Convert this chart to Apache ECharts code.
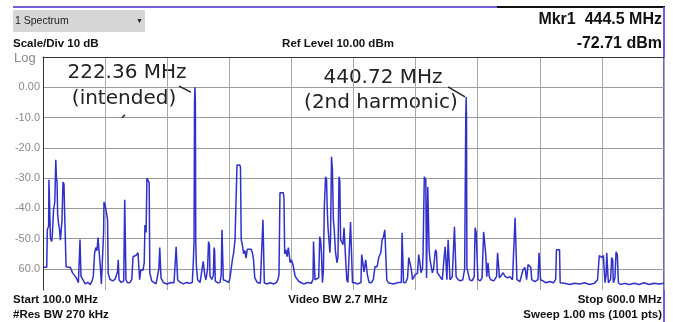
<!DOCTYPE html>
<html>
<head>
<meta charset="utf-8">
<script src="https://cdn.jsdelivr.net/npm/echarts@6/dist/echarts.min.js"></script>
<style>
  html, body { margin: 0; padding: 0; background: #fff; }
  #chart { width: 673px; height: 322px; }
</style>
</head>
<body>
<div id="chart"></div>
<script>
// Sweep frequencies (MHz) and levels (dBm) of the trace
const traceFreq = [
  100, 101.5, 103, 103.5, 104.5, 104.8, 105.6, 106, 107, 107.5, 108.5, 109.5, 110.3, 110.8, 111.3, 111.8,
  112.5, 113.3, 114, 114.8, 115.3, 116.1, 116.9, 117.5, 118.3, 118.6, 120, 122, 124, 126, 127.4, 128.5,
  129.5, 129.8, 130.3, 130.6, 132, 134, 136, 138, 139.5, 140.5, 141.5, 142.5, 143.5, 144.3, 145, 145.5,
  146.2, 147, 148, 148.8, 149.1, 150, 151.5, 152, 152.5, 154, 156, 158, 160, 160.6, 161.2, 163, 165,
  165.8, 166.4, 166.8, 168, 170, 171.5, 172.5, 175, 176.5, 177.3, 177.8, 178.8, 180.5, 181.5, 182.1, 183,
  183.7, 184.5, 185.5, 186, 187.5, 189, 191, 192.5, 193.3, 194, 194.5, 195, 197, 200, 203, 205.5, 206.5,
  207.2, 207.8, 208.4, 210.5, 213, 215.5, 218, 220.2, 221, 221.6, 222, 222.36, 222.7, 223, 223.5, 224.5,
  226.5, 228, 229, 229.6, 230.2, 231.2, 232.5, 233.3, 234, 234.5, 236, 237.2, 237.7, 238.2, 238.7, 240.5,
  242.5, 243.5, 244.1, 244.7, 245.2, 247.4, 249.5, 250.6, 251.5, 252.5, 253.5, 254.6, 255.2, 256.2, 258.5,
  259, 259.6, 260.5, 261.5, 262.6, 263.5, 264.5, 266, 267.5, 268.5, 269.5, 270.5, 272.5, 275, 276.5, 277.1,
  277.7, 278.2, 280, 283, 286, 288, 289.2, 290, 290.8, 293.5, 294, 294.6, 295.5, 296.5, 297.5, 298.3, 299,
  300, 301.5, 303, 304.5, 306, 308, 310, 313, 316, 317.4, 317.8, 318.4, 319, 320.5, 322, 322.8, 323.5,
  324.2, 325, 325.8, 326.5, 327.5, 328.3, 328.8, 329.5, 330.3, 331, 331.5, 332.3, 333, 333.8, 334.5, 335.5,
  336.7, 337.5, 338.3, 339, 339.6, 340.5, 341.5, 342.4, 343.2, 343.8, 344.6, 345.5, 346.8, 347.6, 348.6,
  349.2, 351, 353, 356, 356.6, 357.2, 358.5, 359.8, 360.6, 361.2, 362.5, 364.5, 366, 367.3, 369, 370.5,
  372, 373, 374, 375.2, 376.2, 376.8, 378, 382, 386, 388.5, 389.1, 389.7, 390.3, 392, 393.5, 394.5, 395.5,
  396.5, 397.5, 399.5, 401.5, 402.5, 403.5, 404.3, 405.5, 406, 407, 408.2, 408.8, 409.8, 410.4, 410.9,
  411.6, 412.5, 413.5, 414.5, 415.6, 416.1, 416.8, 417.5, 419.7, 421.5, 422.8, 423.8, 424.5, 425.2, 426.2,
  427, 427.7, 429.5, 430.3, 431.3, 432, 432.6, 434.2, 436, 438, 439.5, 440.2, 440.4, 440.72, 441, 441.3,
  442, 443.5, 445.5, 447.2, 447.9, 448.8, 449.5, 450.2, 452, 453.5, 454.8, 455.8, 456.5, 457.3, 458.3,
  459.3, 460.5, 463, 465.2, 466, 466.8, 467.5, 469, 470.5, 472, 474, 476, 478, 479.5, 480.1, 480.8, 481.6,
  484, 486.5, 488.1, 489.4, 490.5, 491.5, 492.8, 493.5, 496, 498.5, 499.4, 500, 500.6, 502.5, 505, 508,
  511, 512.8, 513.4, 514.7, 515.9, 516.4, 520, 524, 528, 532, 536, 540, 544, 546.5, 547.9, 549, 550.1,
  551.2, 552, 552.5, 553.4, 553.9, 554.6, 555.2, 557, 557.9, 558.7, 559.2, 560.5, 561.4, 562.4, 563.3,
  565, 568, 572, 576, 580, 584, 588, 592, 596, 600
];
const traceLevel = [
  -59.5, -59, -59.5, -47, -46, -30.6, -30.6, -50, -51, -49, -40.5, -38, -24, -30, -31, -42,
  -45, -47, -50.5, -51, -44, -31.3, -32, -42.8, -43, -59.3, -59.3, -59.6, -61.5, -62.5, -63.5, -64.6,
  -64, -50.3, -50.5, -62.5, -63.5, -65, -64.5, -65.2, -64, -62.5, -55, -53, -54, -49.7, -50, -56,
  -59.5, -65, -64.5, -48, -37.9, -38.8, -38.8, -43.8, -61.5, -63.5, -64, -63.5, -61, -57, -63.6, -64.5, -64,
  -37.2, -37.5, -63.6, -64.6, -64.5, -63.5, -56, -55.5, -54.7, -54.5, -63.6, -60.3, -60.5, -58, -45.5, -48,
  -30, -30.5, -31.6, -61.3, -64, -64.6, -65, -64.5, -60, -53, -53, -63, -64.6, -65, -64.5, -64.6, -64,
  -52.7, -53, -63.6, -64.5, -65, -64.5, -64.8, -64.5, -58, -51.4, -5, 0, -5, -51.4, -59, -63.6,
  -64.5, -64, -57.5, -57, -62, -63.6, -60, -51, -52, -62.5, -63.5, -62, -53, -54, -64, -64.6,
  -64.5, -62, -47.1, -47.5, -63.6, -64, -64.5, -63, -60, -57, -54.7, -50.4, -50.4, -25.7, -25.7,
  -26.5, -50.4, -52, -55, -54, -56.5, -53.5, -53, -53.5, -54.5, -57, -63, -64.5, -64.8, -64.5, -43.8,
  -44, -64.6, -65, -64.6, -65, -64.5, -63.5, -62, -34.9, -34.9, -36.5, -55, -53.7, -56, -53, -53, -58,
  -57, -59, -62.5, -63, -64.2, -64.6, -65, -64.5, -64.8, -63.5, -51, -51.5, -63.6, -64, -63, -49.4, -50.5,
  -54.7, -64.6, -60, -39.6, -29.6, -30.5, -39.6, -46.5, -47, -54.7, -50, -23, -27, -43.8, -47, -54.5,
  -58, -56, -29.6, -31, -50.4, -51, -52, -46.4, -47, -58, -63.6, -64.5, -64, -44.5, -44.5,
  -64.6, -64.6, -65, -64.5, -55.3, -55.5, -61, -57, -57.5, -62, -64.5, -64.6, -63.5, -59.3, -59.3, -56,
  -54.7, -50.4, -49.7, -47.1, -47.1, -63.6, -64.6, -65, -64.5, -64.5, -48.1, -48.5, -64.5, -64.6, -63, -56.3, -56.5,
  -60, -63.6, -62, -61.5, -55.3, -58, -61.3, -60, -55.3, -29.6, -30.5, -63, -33, -33.5, -53.7,
  -57, -59, -61.3, -60, -55, -53.7, -54.5, -61.3, -62.6, -63.6, -57, -52.7, -53, -63.6, -50.4,
  -51, -63.6, -62.6, -62, -46.1, -46.5, -62.6, -63.6, -64, -63.6, -60, -59.6, -10, -3.2, -10, -59.6,
  -60, -63.6, -64, -62.6, -46.4, -48, -56, -63.6, -64, -63, -47.8, -48, -55.3, -62.6, -58,
  -62.6, -63.6, -64, -62.5, -54.7, -55, -63, -63.6, -61.3, -62.5, -63, -62.6, -63.6, -63.6, -43.1, -43.5, -63.6,
  -64.2, -60.3, -59.6, -63.6, -58.6, -59, -59.6, -63.6, -64.2, -63.6, -54.7, -55.3, -63.6, -64, -64.6, -64.2,
  -64.6, -63.5, -53.7, -53.3, -53.7, -64.6, -64.8, -65.2, -64.8, -65, -64.6, -65.2, -64.8, -63.6, -55.6, -56, -56.3,
  -55.6, -56, -64.6, -62, -54.7, -55, -64.6, -63.5, -56.3, -57, -64.6, -63, -54.4, -55.3, -64.6,
  -65.2, -64.8, -65.2, -64.8, -65.2, -64.6, -65.2, -64.8, -65, -64.8
];
const yTickValues = [0, -10, -20, -30, -40, -50, -60];
const yTickLabels = ['0.00', '-10.0', '-20.0', '-30.0', '-40.0', '-50.0', '60.0'];

const boldFont = '"Liberation Sans", Arial, sans-serif';
const noteFont = '"DejaVu Sans", sans-serif';

const chart = echarts.init(document.getElementById('chart'), null, { renderer: 'canvas' });

const txt = (x, y, text, opts) => ({
  type: 'text', x: x, y: y, silent: true,
  style: Object.assign({ text: text, fill: '#111', font: 'bold 11.5px ' + boldFont, textVerticalAlign: 'middle' }, opts || {})
});

const option = {
  animation: false,
  backgroundColor: '#fff',
  grid: { left: 43, right: 9, top: 57, bottom: 32 },
  xAxis: {
    type: 'value', min: 100, max: 600, interval: 50, position: 'top',
    axisLine: { show: true, onZero: false, lineStyle: { color: '#333', width: 1 } },
    axisTick: { show: false },
    axisLabel: { show: false },
    splitLine: { show: true, lineStyle: { color: '#a8a8a8', width: 1 } }
  },
  yAxis: {
    type: 'value', min: -67, max: 10,
    axisLine: { show: true, lineStyle: { color: '#333', width: 1 } },
    axisTick: { show: false, customValues: yTickValues },
    axisLabel: {
      customValues: yTickValues,
      color: '#8a8a8a', fontSize: 11, fontFamily: boldFont, margin: 3,
      formatter: (v) => yTickLabels[yTickValues.indexOf(v)]
    },
    splitLine: { show: true, lineStyle: { color: '#9a9a9a', width: 1 } }
  },
  series: [{
    type: 'line',
    data: traceFreq.map((f, i) => [f, traceLevel[i]]),
    symbol: 'none',
    lineStyle: { color: '#3030cc', width: 1.5 },
    markLine: {
      silent: true, symbol: 'none', label: { show: false },
      lineStyle: { color: '#222', type: 'solid', width: 1.5 },
      data: [
        [{ coord: [209.5, 0.4] }, { coord: [219.1, -1.6] }],
        [{ coord: [426.1, 0.1] }, { coord: [439.8, -3.2] }],
        [{ coord: [163.6, -10.1] }, { coord: [166, -9.1] }]
      ]
    }
  }],
  graphic: [
    // top rule
    { type: 'line', silent: true, shape: { x1: 13, y1: 7, x2: 497, y2: 7 }, style: { stroke: '#6f5fd8', lineWidth: 2 } },
    { type: 'line', silent: true, shape: { x1: 497, y1: 7, x2: 665, y2: 7 }, style: { stroke: '#111', lineWidth: 2 } },
    { type: 'line', silent: true, shape: { x1: 664, y1: 7, x2: 664, y2: 322 }, style: { stroke: '#6f5fd8', lineWidth: 2 } },
    // window tab
    { type: 'rect', silent: true, shape: { x: 13, y: 10, width: 132, height: 22 }, style: { fill: '#d6d6d6' } },
    txt(15, 21, '1 Spectrum', { font: '10.5px ' + boldFont, fill: '#222' }),
    txt(136, 21, '\u25BC', { font: '7px ' + boldFont, fill: '#222' }),
    txt(13, 44, 'Scale/Div 10 dB'),
    txt(338, 44, 'Ref Level 10.00 dBm', { textAlign: 'center' }),
    txt(662, 20, 'Mkr1  444.5 MHz', { textAlign: 'right', font: 'bold 16px ' + boldFont }),
    txt(662, 44, '-72.71 dBm', { textAlign: 'right', font: 'bold 16px ' + boldFont }),
    txt(14, 58, 'Log', { font: '13px ' + boldFont, fill: '#8a8a8a' }),
    txt(13, 300, 'Start 100.0 MHz'),
    txt(13, 315, '#Res BW 270 kHz'),
    txt(338, 300, 'Video BW 2.7 MHz', { textAlign: 'center' }),
    txt(662, 300, 'Stop 600.0 MHz', { textAlign: 'right' }),
    txt(662, 315, 'Sweep 1.00 ms (1001 pts)', { textAlign: 'right' }),
    // annotations
    txt(127, 73, '222.36 MHz', { textAlign: 'center', font: '20px ' + noteFont, fill: '#222' }),
    txt(124, 99, '(intended)', { textAlign: 'center', font: '20px ' + noteFont, fill: '#222' }),
    txt(383, 78, '440.72 MHz', { textAlign: 'center', font: '20px ' + noteFont, fill: '#222' }),
    txt(381, 103, '(2nd harmonic)', { textAlign: 'center', font: '20px ' + noteFont, fill: '#222' })
  ]
};

chart.setOption(option);
</script>
</body>
</html>
